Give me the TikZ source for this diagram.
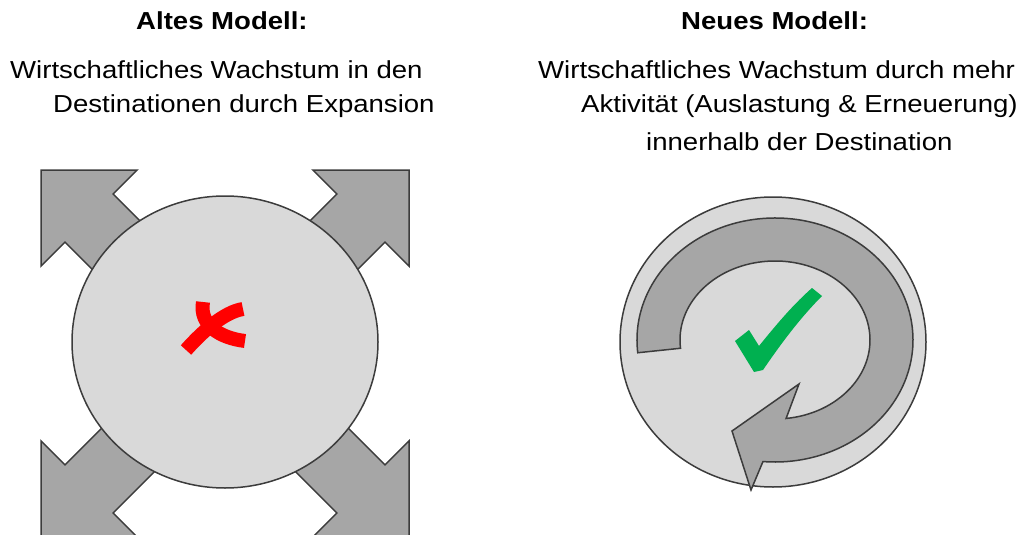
\documentclass[tikz,border=0pt]{standalone}
\usepackage{fontspec}
\setmainfont{Liberation Sans}
\usepackage{tikz}

\definecolor{discgray}{RGB}{217,217,217}
\definecolor{arrowgray}{RGB}{166,166,166}
\definecolor{edgegray}{RGB}{60,60,60}
\definecolor{okgreen}{RGB}{0,176,80}

\begin{document}
\begin{tikzpicture}[x=1pt,y=-1pt,
  heading/.style={font=\fontsize{24.6}{30}\selectfont\bfseries,xscale=1.12,inner sep=0pt,anchor=base west},
  caption/.style={font=\fontsize{24.6}{30}\selectfont,xscale=1.12,inner sep=0pt,anchor=base west},
  disc/.style={fill=discgray,draw=edgegray,line width=1.5pt},
  bigarrow/.style={fill=arrowgray,draw=edgegray,line width=1.5pt,line join=miter}]
\useasboundingbox (0,0) rectangle (1026,535);
% left: old model
\node[heading] (oldtitle) at (136,30) {Altes Modell:};
\node[caption] (oldline1) at (10,79) {Wirtschaftliches Wachstum in den};
\node[caption] (oldline2) at (53,113) {Destinationen durch Expansion};
\begin{scope}
\clip (0,0) rectangle (1026,535);
\foreach \ang/\tx/\ty in {135/41/170, 45/409/170, 225/41/537, 315/409/537}
  \draw[bigarrow,shift={(\tx,\ty)},rotate=\ang] (0,0) -- (-68,68) -- (-68,34) -- (-200,34)
    -- (-200,-34) -- (-68,-34) -- (-68,-68) -- cycle;
\end{scope}
\draw[disc] (225,342) ellipse [x radius=153, y radius=146];
% red cross
\draw[red,line width=14pt] (203,302) .. controls (199,325) and (220,338) .. (245,341);
\draw[red,line width=14pt] (243,309) .. controls (224,312) and (202,332) .. (186,350);
% right: new model
\node[heading] (newtitle) at (681,30) {Neues Modell:};
\node[caption] (newline1) at (538,78) {Wirtschaftliches Wachstum durch mehr};
\node[caption] (newline2) at (581,113) {Aktivität (Auslastung \& Erneuerung)};
\node[caption] (newline3) at (646,150) {innerhalb der Destination};
\draw[disc] (773,342) ellipse [x radius=153, y radius=145];
\draw[bigarrow] ([shift={(775,340)}]174:138 and 122)
  arc[start angle=174, end angle=455, x radius=138, y radius=122]
  -- (751,490) -- (732,431) -- (799,384) -- ([shift={(775,340)}]83.3:95 and 79)
  arc[start angle=443.3, end angle=174, x radius=95, y radius=79] -- cycle;
% green tick
\fill[okgreen] (735,341) -- (749,330) -- (759,346) .. controls (780,320) and (795,303) .. (812,288)
  -- (822,296) .. controls (800,318) and (780,345) .. (763,370) -- (754,372) -- cycle;
\end{tikzpicture}
\end{document}
